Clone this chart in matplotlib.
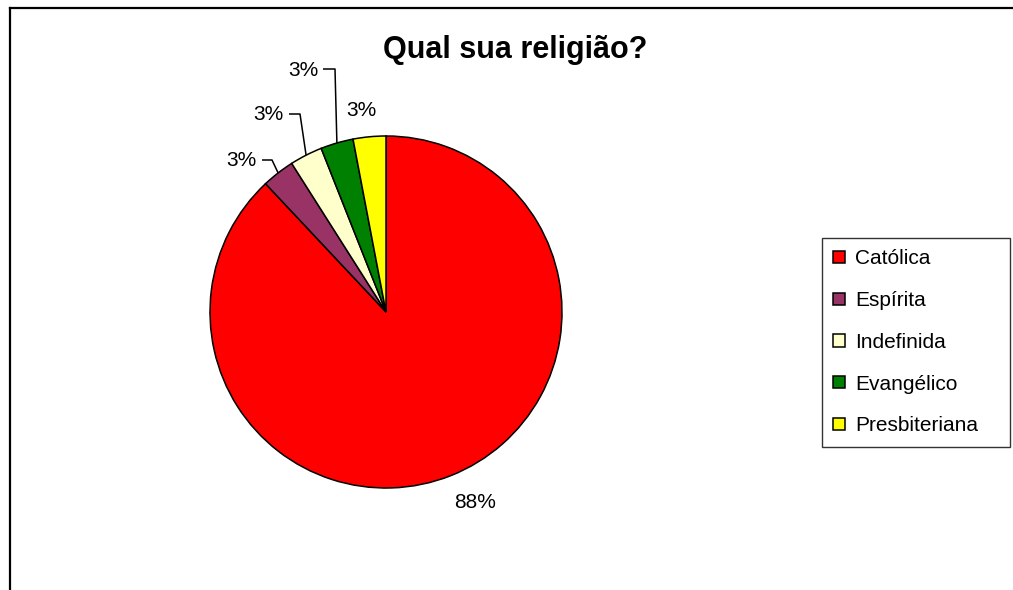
import numpy as np
import matplotlib
matplotlib.use("Agg")
import matplotlib.pyplot as plt
from matplotlib.lines import Line2D

plt.rcParams['font.family'] = ['Liberation Sans', 'DejaVu Sans']

# data
religioes = ['Católica', 'Espírita', 'Indefinida', 'Evangélico', 'Presbiteriana']
percentuais = [88, 3, 3, 3, 3]
cores = ['#FF0000', '#993366', '#FFFFCC', '#008000', '#FFFF00']
titulo = 'Qual sua religião?'

W, H = 1013, 590
CX, CY, R = 386, 312, 176   # pie centre / radius in pixels (from top-left)


def py(y):
    """pixel row (from top) -> data y"""
    return H - y


fig = plt.figure(figsize=(W / 100, H / 100), dpi=100)
ax = fig.add_axes([0, 0, 1, 1])

wedges, _ = ax.pie(percentuais, colors=cores, startangle=90, counterclock=False,
                   center=(CX, py(CY)), radius=R,
                   wedgeprops=dict(edgecolor='black', linewidth=1.1))
ax.set_xlim(0, W)
ax.set_ylim(0, H)
ax.set_aspect('auto')
ax.axis('off')

# label layout: text position (pixels) and leader line knee (None = no line)
rotulos = [
    ((475, 502), None),
    ((241, 161), (262, 272)),
    ((268, 115), (289, 300)),
    ((303, 70), (323, 335)),
    ((361, 111), None),
]

for w, pct, (pos, knee) in zip(wedges, percentuais, rotulos):
    ax.text(pos[0], py(pos[1]), f'{pct}%', fontsize=15, ha='center', va='center')
    if knee is not None:
        ang = np.deg2rad((w.theta1 + w.theta2) / 2)
        ex = CX + R * np.cos(ang)
        ey = py(CY) + R * np.sin(ang)
        ax.plot([knee[0], knee[1], ex], [py(pos[1]) + 1, py(pos[1]) + 1, ey],
                color='black', linewidth=1.1, solid_capstyle='butt')

fig.text(515 / W, 1 - 50 / H, titulo, fontsize=22, fontweight='bold',
         ha='center', va='center')

leg = ax.legend(wedges, religioes, loc='upper left', mode='expand',
                bbox_to_anchor=(822 / W, 1 - 238 / H, 188 / W, 0),
                bbox_transform=fig.transFigure,
                borderaxespad=0, fontsize=15, frameon=True, fancybox=False,
                handlelength=0.55, handleheight=0.55, handletextpad=0.5,
                labelspacing=1.09, borderpad=0.55)
leg.get_frame().set_edgecolor('black')
leg.get_frame().set_linewidth(1.0)

# chart area border (only top and left visible)
fig.add_artist(Line2D([9.5 / W, 1], [1 - 7.5 / H, 1 - 7.5 / H], color='black', linewidth=1.6,
                      transform=fig.transFigure))
fig.add_artist(Line2D([9.5 / W, 9.5 / W], [0, 1 - 7.5 / H], color='black', linewidth=1.6,
                      transform=fig.transFigure))

fig.savefig('out.png', dpi=100, facecolor='white')
